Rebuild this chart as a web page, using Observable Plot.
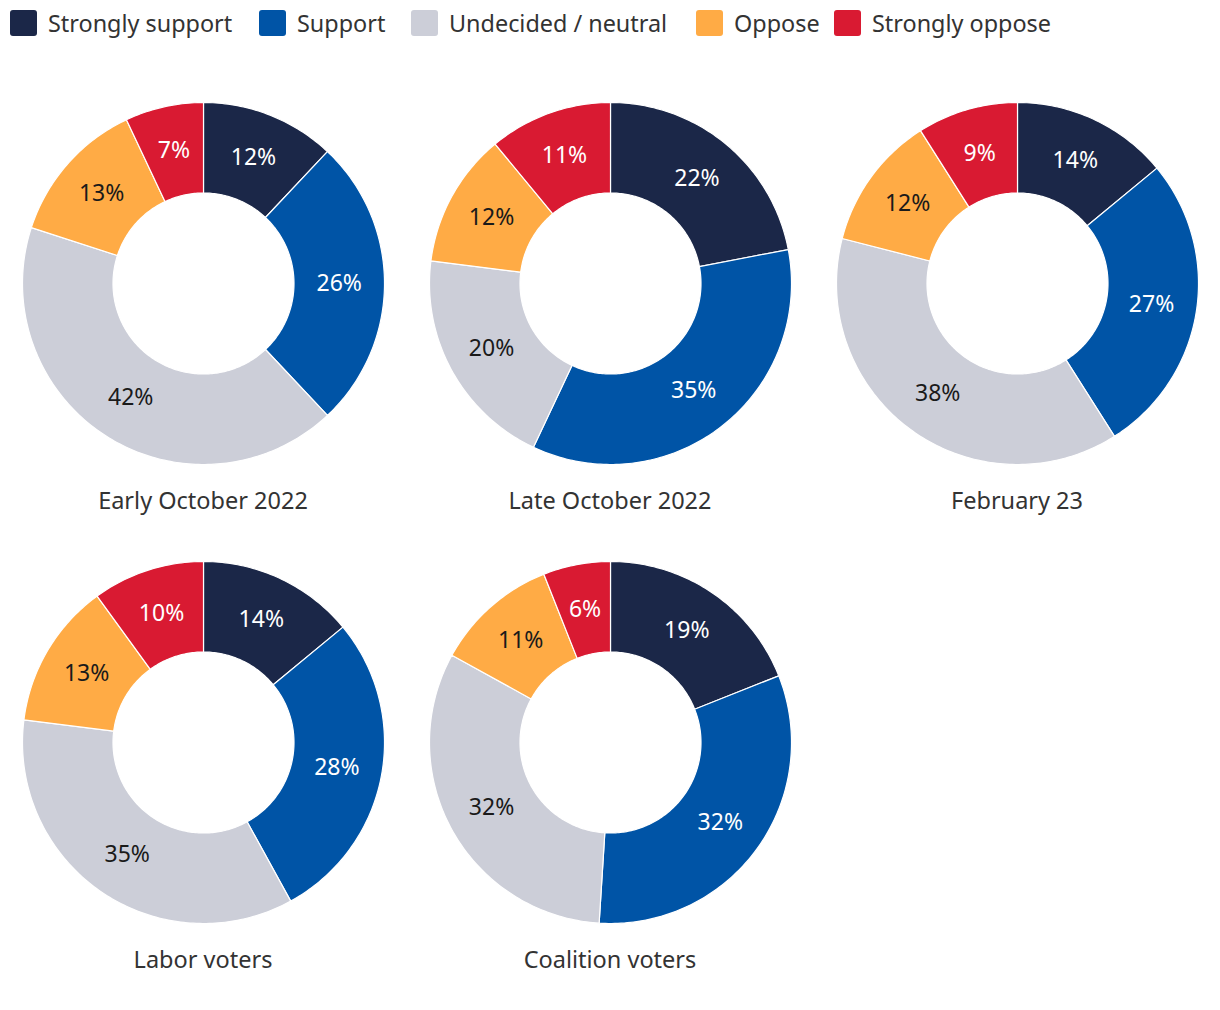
<!DOCTYPE html>
<html>
<head>
<meta charset="utf-8">
<script src="https://cdn.jsdelivr.net/npm/d3@7"></script>
<script src="https://cdn.jsdelivr.net/npm/@observablehq/plot@0.6"></script>
<style>
  html, body { margin: 0; padding: 0; background: #fff; }
  body { width: 1220px; height: 1010px; position: relative; font-family: "Noto Sans", sans-serif; color: #333; overflow: hidden; }
  .leg { position: absolute; top: 7px; display: flex; align-items: center; font-size: 23.4px; color: #333; white-space: nowrap; }
  .leg .sw { width: 27px; height: 26px; border-radius: 3px; margin-right: 11px; }
  .cell { position: absolute; }
  .title { position: absolute; width: 400px; text-align: center; font-size: 23.5px; color: #333; }
</style>
</head>
<body>
<div id="root"></div>
<script>
const categories = ["Strongly support", "Support", "Undecided / neutral", "Oppose", "Strongly oppose"];
const colors = ["#1b2748", "#0054a6", "#ccced8", "#ffab45", "#d91a32"];
const labelColors = ["#ffffff", "#ffffff", "#1a1a1a", "#1a1a1a", "#ffffff"];
const panels = ["Early October 2022", "Late October 2022", "February 23", "Labor voters", "Coalition voters"];
const earlyOct2022 = [12, 26, 42, 13, 7];
const lateOct2022 = [22, 35, 20, 12, 11];
const feb23 = [14, 27, 38, 12, 9];
const laborVoters = [14, 28, 35, 13, 10];
const coalitionVoters = [19, 32, 32, 11, 6];
const series = [earlyOct2022, lateOct2022, feb23, laborVoters, coalitionVoters];
const legendX = [10, 259, 411, 696, 834];

const root = document.getElementById("root");

categories.forEach((c, i) => {
  const d = document.createElement("div");
  d.className = "leg";
  d.style.left = legendX[i] + "px";
  d.innerHTML = `<div class="sw" style="background:${colors[i]}"></div><span>${c}</span>`;
  root.appendChild(d);
});

const innerR = 0.5, outerR = 1;
const size = 370, margin = 4;

series.forEach((vals, k) => {
  const col = k % 3, row = Math.floor(k / 3);
  const cx = 203 + 407 * col;
  const cy = 283 + 458.5 * row;
  const arcs = d3.pie().sort(null).value(v => v)(vals);
  const pts = [];
  const labels = [];
  arcs.forEach((a, i) => {
    const a0 = a.startAngle, a1 = a.endAngle;
    const n = Math.max(2, Math.ceil((a1 - a0) / (Math.PI / 180)));
    for (let j = 0; j <= n; j++) {
      const t = a0 + (a1 - a0) * j / n;
      pts.push({cat: categories[i], x: outerR * Math.sin(t), y: outerR * Math.cos(t)});
    }
    for (let j = n; j >= 0; j--) {
      const t = a0 + (a1 - a0) * j / n;
      pts.push({cat: categories[i], x: innerR * Math.sin(t), y: innerR * Math.cos(t)});
    }
    const m = (a0 + a1) / 2, rm = (innerR + outerR) / 2;
    labels.push({cat: categories[i], text: vals[i] + "%", x: rm * Math.sin(m), y: rm * Math.cos(m), lc: labelColors[i]});
  });
  const chart = Plot.plot({
    width: size, height: size,
    margin,
    x: {domain: [-1, 1], axis: null},
    y: {domain: [-1, 1], axis: null},
    color: {domain: categories, range: colors},
    style: {fontFamily: "Noto Sans, sans-serif", background: "transparent"},
    marks: [
      Plot.line(pts, {x: "x", y: "y", z: "cat", fill: "cat", stroke: "#ffffff", strokeWidth: 1.2, curve: "linear-closed"}),
      Plot.text(labels, {x: "x", y: "y", text: "text", fill: "lc", fontSize: 23})
    ]
  });
  const cell = document.createElement("div");
  cell.className = "cell";
  cell.style.left = (cx - size / 2) + "px";
  cell.style.top = (cy - size / 2) + "px";
  cell.appendChild(chart);
  root.appendChild(cell);
  const t = document.createElement("div");
  t.className = "title";
  t.textContent = panels[k];
  t.style.left = (cx - 200) + "px";
  t.style.top = (cy + 201) + "px";
  root.appendChild(t);
});
</script>
</body>
</html>
